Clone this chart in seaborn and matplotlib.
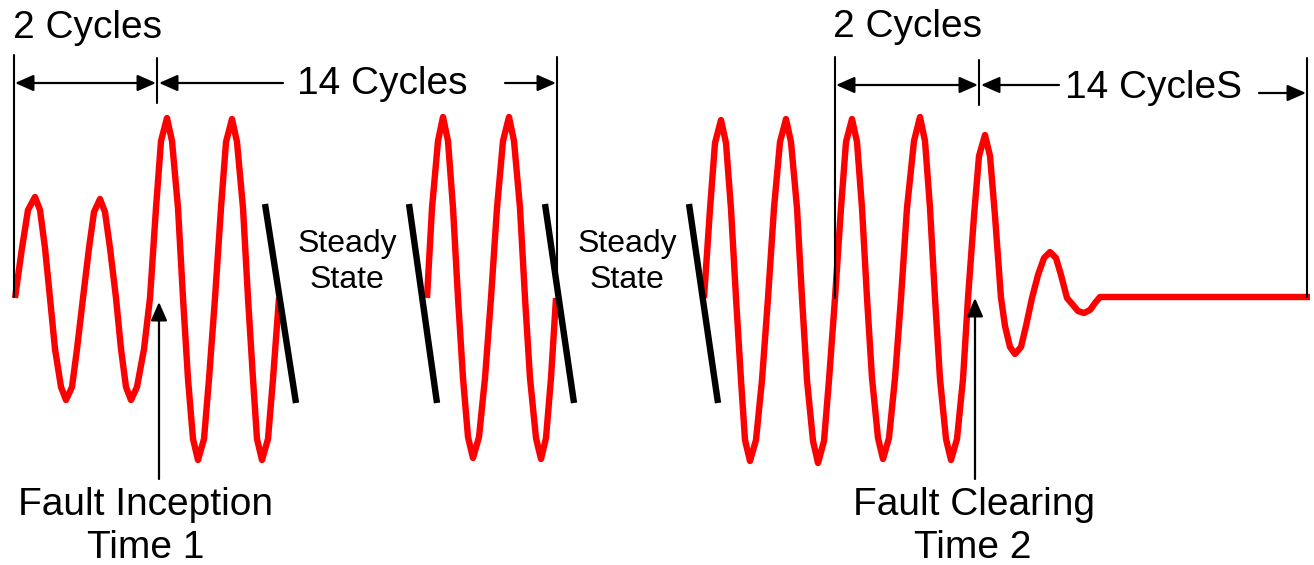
import matplotlib
matplotlib.use("Agg")
import matplotlib.pyplot as plt
import seaborn as sns
import pandas as pd

sns.set_theme(style="white")
plt.rcParams['font.family'] = ['Liberation Sans', 'DejaVu Sans']
plt.rcParams['text.color'] = 'black'

# ---- waveform vertices (pixel coordinates) ----
seg1_x = [15, 22, 28, 35, 40, 45, 50, 55, 61, 66, 72, 77, 83, 89, 94, 100, 105, 110, 116,
          121, 126, 131, 137, 144, 150, 156, 161, 167, 172, 178, 183, 188, 193, 198, 204, 209, 215,
          221, 226, 232, 237, 243, 248, 253, 257, 262, 268, 273, 279]
seg1_y = [298, 248, 210, 197, 210, 248, 298, 349, 387, 400, 387, 349, 298, 248, 212, 199, 212, 248, 298,
          349, 387, 400, 387, 349, 298, 208, 141, 118, 141, 208, 298, 379, 439, 460, 439, 379, 298,
          208, 142, 119, 142, 208, 298, 379, 439, 460, 439, 379, 298]

seg2_x = [427, 432, 438, 443, 448, 453, 458, 463, 468, 473, 479, 485, 491,
          497, 503, 509, 514, 520, 525, 530, 536, 541, 546, 551, 556]
seg2_y = [298, 208, 141, 117, 141, 208, 298, 378, 437, 458, 437, 378, 298,
          208, 141, 117, 141, 208, 298, 378, 438, 459, 438, 378, 298]

seg3_x = [704, 710, 715, 721, 726, 731, 736, 741, 745, 750, 756, 762, 768,
          774, 780, 786, 791, 797, 802, 807, 813, 818, 824, 829, 835,
          841, 846, 852, 857, 862, 867, 872, 878, 883, 889, 895, 901,
          907, 914, 920, 925, 930, 935, 940, 946, 951, 957, 963, 968,
          974, 979, 985, 990, 995, 1001, 1005, 1010, 1015, 1021, 1026, 1032,
          1038, 1044, 1050, 1056, 1061, 1067, 1073, 1078, 1084, 1090, 1095, 1100, 1310]
seg3_y = [298, 209, 143, 120, 143, 209, 298, 380, 440, 461, 440, 380, 298,
          208, 142, 119, 142, 208, 298, 380, 441, 463, 441, 380, 298,
          208, 142, 119, 142, 208, 298, 378, 438, 459, 438, 378, 298,
          208, 141, 117, 141, 208, 298, 379, 439, 460, 439, 379, 298,
          216, 156, 135, 156, 216, 298, 326, 347, 354, 347, 326, 298,
          275, 258, 252, 258, 275, 298, 305, 311, 313, 310, 303, 297, 297]

# "break" marks (thick black slanted strokes)
break_x0 = [265, 409, 545, 689]
break_y0 = [204, 204, 204, 204]
break_x1 = [296, 437, 574, 718]
break_y1 = [403, 403, 403, 403]

# thin vertical markers: x, top, bottom
vline_x = [14, 157, 557, 835, 979, 1307]
vline_top = [55, 58, 57, 57, 60, 58]
vline_bot = [297, 103, 298, 298, 105, 297]

# labels
labels = ["2 Cycles", "14 Cycles", "2 Cycles", "14 CycleS"]
label_x = [13, 297, 833, 1065]
label_y = [38, 94, 37, 98]

ss_x = [347, 627]

frames = []
for name, xs, ys in [("s1", seg1_x, seg1_y), ("s2", seg2_x, seg2_y), ("s3", seg3_x, seg3_y)]:
    frames.append(pd.DataFrame({"x": xs, "y": ys, "seg": name, "order": range(len(xs))}))
df = pd.concat(frames, ignore_index=True)

fig = plt.figure(figsize=(13.14, 5.65), dpi=100)
ax = fig.add_axes([0, 0, 1, 1])

sns.lineplot(data=df, x="x", y="y", units="seg", estimator=None, sort=False,
             color="#ff0000", lw=4.6, ax=ax, legend=False)
for l in ax.lines:
    l.set_solid_joinstyle("round")
    l.set_solid_capstyle("butt")

for x0, y0, x1, y1 in zip(break_x0, break_y0, break_x1, break_y1):
    ax.plot([x0, x1], [y0, y1], color="black", lw=4.6, solid_capstyle="butt")

for x, t, b in zip(vline_x, vline_top, vline_bot):
    ax.plot([x, x], [t, b], color="black", lw=1.5)

def arrow(x_from, y_from, x_to, y_to, both=False):
    style = "<|-|>" if both else "-|>"
    ax.annotate("", xy=(x_to, y_to), xytext=(x_from, y_from),
                arrowprops=dict(arrowstyle=style + ",head_length=0.75,head_width=0.33",
                                mutation_scale=15, color="black", lw=1.6,
                                shrinkA=0, shrinkB=0))

arrow(15, 83, 156, 83, both=True)
arrow(283, 83, 159, 83)
arrow(505, 83, 556, 83)
arrow(836, 85, 978, 85, both=True)
arrow(1059, 85, 981, 85)
arrow(1259, 93, 1306, 93)
# fault arrows
arrow(159, 479, 159, 302)
arrow(975, 479, 975, 298)

for s, x, y in zip(labels, label_x, label_y):
    ax.text(x, y, s, fontsize=28, ha="left", va="baseline", color="black")

for x in ss_x:
    ax.text(x, 252, "Steady", fontsize=23, ha="center", va="baseline", color="black")
    ax.text(x, 288, "State", fontsize=23, ha="center", va="baseline", color="black")

ax.text(146, 515, "Fault Inception", fontsize=28, ha="center", va="baseline", color="black")
ax.text(146, 558, "Time 1", fontsize=28, ha="center", va="baseline", color="black")
ax.text(974, 515, "Fault Clearing", fontsize=28, ha="center", va="baseline", color="black")
ax.text(973, 558, "Time 2", fontsize=28, ha="center", va="baseline", color="black")

ax.set_xlim(0, 1314)
ax.set_ylim(565, 0)
ax.axis("off")

fig.savefig("out.png", dpi=100, facecolor="white")
